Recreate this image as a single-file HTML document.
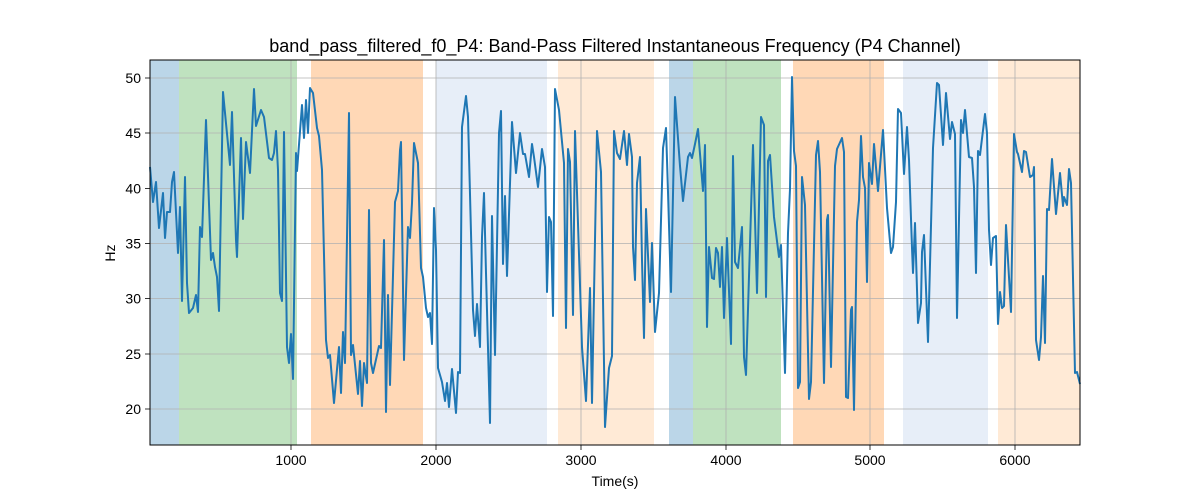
<!DOCTYPE html>
<html><head><meta charset="utf-8"><style>body{margin:0;background:#fff}svg{display:block;font-family:"Liberation Sans","DejaVu Sans",sans-serif}</style></head><body>
<svg width="1200" height="500" viewBox="0 0 1200 500">
<rect width="1200" height="500" fill="#fff"/>
<g>
<rect x="150" y="60" width="29" height="385" fill="#1f77b4" opacity="0.3"/>
<rect x="179" y="60" width="118" height="385" fill="#2ca02c" opacity="0.3"/>
<rect x="311" y="60" width="112" height="385" fill="#ff7f0e" opacity="0.3"/>
<rect x="436" y="60" width="111" height="385" fill="#aec7e8" opacity="0.3"/>
<rect x="558" y="60" width="96" height="385" fill="#ffbb78" opacity="0.3"/>
<rect x="669" y="60" width="24" height="385" fill="#1f77b4" opacity="0.3"/>
<rect x="693" y="60" width="88" height="385" fill="#2ca02c" opacity="0.3"/>
<rect x="793" y="60" width="91" height="385" fill="#ff7f0e" opacity="0.3"/>
<rect x="903" y="60" width="85" height="385" fill="#aec7e8" opacity="0.3"/>
<rect x="998" y="60" width="82" height="385" fill="#ffbb78" opacity="0.3"/>
</g>
<g stroke="#b0b0b0" stroke-width="0.8">
<line x1="291" y1="60" x2="291" y2="445"/><line x1="436" y1="60" x2="436" y2="445"/><line x1="581" y1="60" x2="581" y2="445"/><line x1="726" y1="60" x2="726" y2="445"/><line x1="870" y1="60" x2="870" y2="445"/><line x1="1015" y1="60" x2="1015" y2="445"/>
<line x1="150" y1="78" x2="1080" y2="78"/><line x1="150" y1="133" x2="1080" y2="133"/><line x1="150" y1="188.5" x2="1080" y2="188.5"/><line x1="150" y1="243.5" x2="1080" y2="243.5"/><line x1="150" y1="298.5" x2="1080" y2="298.5"/><line x1="150" y1="354" x2="1080" y2="354"/><line x1="150" y1="409" x2="1080" y2="409"/>
</g>
<polyline fill="none" stroke="#1f77b4" stroke-width="2" stroke-linejoin="round" points="150,167 153,202 156,182 159,228 163,193 165,238 167,212 170,212 172,182 174,172 178,253 180,207 182,301 185,177 187,283 189,313 193,308 196,295 198,312 200,227 202,237 206,120 211,260 213,253 215,267 217,277 219,311 223,92 230,165 232,112 236,240 237,257 241,138 243,219 246,142 250,173 254,89 256,126 261,110 264,117 269,158 272,160 274,153 276,131 278,170 280,293 282,301 284,132 287,347 289,363 291,334 293,379 296,153 297,171 302,105 304,138 306,100 308,133 310,88 313,93 317,128 319,136 322,170 326,340 328,358 330,355 334,403 339,347 341,393 343,332 345,363 349,113 351,355 353,345 358,394 360,361 362,406 364,363 367,383 369,210 371,363 373,373 379,346 381,348 384,240 386,412 388,295 390,385 395,202 398,191 400,150 401,142 404,360 408,227 410,238 412,203 414,143 418,163 421,268 423,277 426,308 428,317 430,313 432,344 434,208 436,250 438,368 442,382 445,401 447,383 449,407 452,369 456,413 458,372 460,373 462,127 466,96 468,117 473,310 475,336 477,304 480,347 482,237 484,193 486,273 490,423 492,216 495,355 499,133 501,111 503,264 505,196 507,276 512,122 516,173 520,133 523,154 525,154 529,177 532,144 534,157 538,187 542,149 545,167 547,292 549,217 551,222 553,316 555,89 559,110 564,163 566,328 568,149 570,162 573,315 575,131 582,347 586,401 590,288 592,403 597,131 601,172 605,427 609,368 612,356 614,131 617,153 620,159 624,131 627,165 629,134 632,157 633,247 635,280 637,183 640,157 642,260 644,338 646,209 650,302 652,243 655,332 659,293 663,148 666,128 668,192 671,292 675,97 680,166 683,201 688,157 690,153 692,158 695,144 698,129 703,191 705,145 707,327 709,247 712,278 714,279 716,248 718,253 720,287 722,247 724,318 727,238 731,344 733,156 735,262 738,268 742,227 744,357 746,375 753,145 757,293 761,117 764,125 766,297 768,161 770,155 774,217 779,257 781,245 785,373 788,233 790,189 792,77 794,151 796,166 798,388 800,382 802,177 805,205 809,399 811,382 816,155 818,141 820,172 824,383 827,220 828,215 831,367 835,166 837,149 842,138 844,152 846,397 848,398 851,310 852,307 854,410 857,222 859,200 861,136 863,177 865,188 867,282 869,163 872,184 874,144 878,191 883,130 887,208 891,253 893,247 896,202 898,109 901,113 904,174 907,127 909,160 912,248 913,273 915,223 918,323 921,303 922,252 924,235 928,342 933,148 937,83 939,85 943,145 946,93 950,139 952,122 955,134 957,318 961,120 963,133 965,110 969,157 972,158 974,187 976,273 978,151 980,155 985,114 987,133 989,230 991,265 993,238 996,236 998,324 1000,292 1002,308 1004,306 1006,225 1011,312 1014,134 1017,152 1018,154 1022,172 1024,151 1026,152 1030,177 1033,175 1034,167 1036,340 1039,360 1041,337 1043,276 1045,343 1047,209 1049,210 1052,159 1056,214 1060,173 1063,206 1064,197 1067,205 1069,169 1071,183 1075,373 1077,372 1080,384"/>
<rect x="150" y="60" width="930" height="385" fill="none" stroke="#000" stroke-width="1"/>
<g stroke="#000" stroke-width="0.8">
<line x1="291" y1="445" x2="291" y2="450"/><line x1="436" y1="445" x2="436" y2="450"/><line x1="581" y1="445" x2="581" y2="450"/><line x1="726" y1="445" x2="726" y2="450"/><line x1="870" y1="445" x2="870" y2="450"/><line x1="1015" y1="445" x2="1015" y2="450"/>
<line x1="145" y1="78" x2="150" y2="78"/><line x1="145" y1="133" x2="150" y2="133"/><line x1="145" y1="188.5" x2="150" y2="188.5"/><line x1="145" y1="243.5" x2="150" y2="243.5"/><line x1="145" y1="298.5" x2="150" y2="298.5"/><line x1="145" y1="354" x2="150" y2="354"/><line x1="145" y1="409" x2="150" y2="409"/>
</g>
<g font-size="14" fill="#000" text-anchor="middle">
<text x="291" y="465">1000</text><text x="436" y="465">2000</text><text x="581" y="465">3000</text><text x="726" y="465">4000</text><text x="870" y="465">5000</text><text x="1015" y="465">6000</text>
</g>
<g font-size="14" fill="#000" text-anchor="end">
<text x="141" y="83">50</text><text x="141" y="138">45</text><text x="141" y="193.5">40</text><text x="141" y="248.5">35</text><text x="141" y="303.5">30</text><text x="141" y="359">25</text><text x="141" y="414">20</text>
</g>
<text x="615" y="486" font-size="14" text-anchor="middle">Time(s)</text>
<text x="115" y="253" font-size="14" text-anchor="middle" transform="rotate(-90 115 253)">Hz</text>
<text x="615" y="52" font-size="18" text-anchor="middle">band_pass_filtered_f0_P4: Band-Pass Filtered Instantaneous Frequency (P4 Channel)</text>
</svg>
</body></html>
